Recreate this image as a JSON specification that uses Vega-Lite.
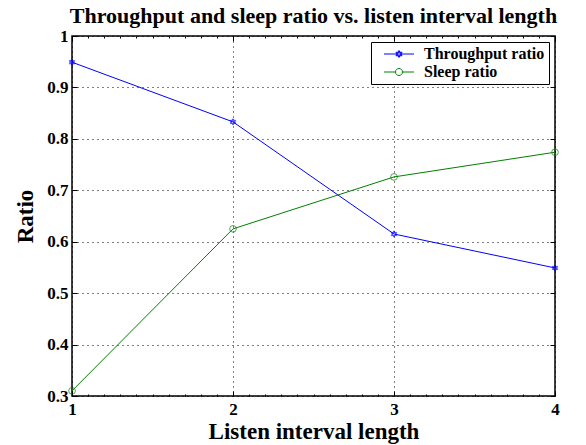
{
  "$schema": "https://vega.github.io/schema/vega-lite/v6.json",
  "width": 483,
  "height": 360,
  "autosize": "none",
  "padding": {"left": 72, "top": 36, "right": 31, "bottom": 49},
  "background": "white",
  "title": {
    "text": "Throughput and sleep ratio vs. listen interval length",
    "font": "Liberation Serif, Times New Roman, serif",
    "fontSize": 22,
    "fontWeight": "bold",
    "color": "black",
    "anchor": "middle",
    "offset": -1
  },
  "config": {
    "view": {"stroke": "black", "strokeWidth": 1.5},
    "axis": {
      "labelFont": "Liberation Serif, Times New Roman, serif",
      "labelFontWeight": "bold",
      "labelFontSize": 17,
      "labelColor": "black",
      "titleFont": "Liberation Serif, Times New Roman, serif",
      "titleFontWeight": "bold",
      "titleFontSize": 23,
      "titleColor": "black",
      "domain": false,
      "tickColor": "black",
      "gridColor": "black",
      "gridDash": [1, 4],
      "gridWidth": 1,
      "gridOpacity": 1
    },
    "legend": {
      "labelFont": "Liberation Serif, Times New Roman, serif",
      "labelFontWeight": "bold",
      "labelFontSize": 16,
      "labelColor": "black"
    }
  },
  "data": {
    "values": [
      {"x": 1, "series": "Throughput ratio", "ratio": 0.949},
      {"x": 2, "series": "Throughput ratio", "ratio": 0.833},
      {"x": 3, "series": "Throughput ratio", "ratio": 0.615},
      {"x": 4, "series": "Throughput ratio", "ratio": 0.549},
      {"x": 1, "series": "Sleep ratio", "ratio": 0.31},
      {"x": 2, "series": "Sleep ratio", "ratio": 0.625},
      {"x": 3, "series": "Sleep ratio", "ratio": 0.726},
      {"x": 4, "series": "Sleep ratio", "ratio": 0.774}
    ]
  },
  "layer": [
    {
      "mark": {"type": "line", "strokeWidth": 1},
      "encoding": {
        "x": {
          "field": "x",
          "type": "quantitative",
          "scale": {"domain": [1, 4], "nice": false, "zero": false},
          "axis": {
            "orient": "bottom",
            "title": "Listen interval length",
            "titlePadding": 3,
            "values": [1, 2, 3, 4],
            "format": "d",
            "labelPadding": 10,
            "labelFlush": false,
            "labelOverlap": false,
            "tickSize": -5,
            "grid": true
          }
        },
        "y": {
          "field": "ratio",
          "type": "quantitative",
          "scale": {"domain": [0.3, 1], "nice": false, "zero": false},
          "axis": {
            "orient": "left",
            "title": "Ratio",
            "titlePadding": 9,
            "values": [0.3, 0.4, 0.5, 0.6, 0.7, 0.8, 0.9, 1],
            "format": "~g",
            "labelPadding": 9,
            "labelFlush": false,
            "labelOverlap": false,
            "tickSize": -5,
            "grid": true
          }
        },
        "color": {
          "field": "series",
          "type": "nominal",
          "sort": ["Throughput ratio", "Sleep ratio"],
          "scale": {"domain": ["Throughput ratio", "Sleep ratio"], "range": ["#0000ff", "#008000"]},
          "legend": {
            "title": null,
            "orient": "top-right",
            "offset": 6,
            "padding": 4,
            "fillColor": "white",
            "strokeColor": "black",
            "symbolSize": 196,
            "symbolOffset": 16,
            "symbolStrokeWidth": 1,
            "symbolFillColor": "transparent",
            "labelOffset": 17,
            "rowPadding": 2,
            "encode": {
              "symbols": {
                "update": {
                  "shape": {"signal": "datum.value === 'Throughput ratio' ? 'M-2.14,0H2.14M0,-0.5L0.433,0.25L-0.433,0.25ZM0,0.5L0.433,-0.25L-0.433,-0.25Z' : 'M-2.14,0H-0.5M0.5,0H2.14M-0.5,0A0.5,0.5 0 1,1 0.5,0A0.5,0.5 0 1,1 -0.5,0Z'"},
                  "fill": {"value": "transparent"},
                  "strokeWidth": {"value": 1}
                }
              }
            }
          }
        }
      }
    },
    {
      "transform": [{"filter": "datum.series === 'Throughput ratio'"}],
      "mark": {"type": "point", "filled": false, "strokeWidth": 1, "color": "#0000ff", "size": 40, "shape": "M0,-1L0.866,0.5L-0.866,0.5ZM0,1L0.866,-0.5L-0.866,-0.5Z"},
      "encoding": {
        "x": {
          "field": "x",
          "type": "quantitative",
          "axis": {
            "orient": "top",
            "title": null,
            "values": [1, 2, 3, 4],
            "labels": false,
            "grid": false,
            "tickSize": -5
          }
        },
        "y": {
          "field": "ratio",
          "type": "quantitative",
          "axis": {
            "orient": "right",
            "title": null,
            "values": [0.3, 0.4, 0.5, 0.6, 0.7, 0.8, 0.9, 1],
            "labels": false,
            "grid": false,
            "tickSize": -5
          }
        }
      }
    },
    {
      "transform": [{"filter": "datum.series === 'Sleep ratio'"}],
      "mark": {"type": "point", "filled": false, "strokeWidth": 1, "color": "#008000", "size": 45, "shape": "circle"},
      "encoding": {
        "x": {
          "field": "x",
          "type": "quantitative",
          "axis": {
            "orient": "bottom",
            "title": null,
            "values": [1.1, 1.2, 1.3, 1.4, 1.5, 1.6, 1.7, 1.8, 1.9, 2.1, 2.2, 2.3, 2.4, 2.5, 2.6, 2.7, 2.8, 2.9, 3.1, 3.2, 3.3, 3.4, 3.5, 3.6, 3.7, 3.8, 3.9],
            "labels": false,
            "grid": false,
            "tickSize": -2
          }
        },
        "y": {"field": "ratio", "type": "quantitative", "axis": null}
      }
    },
    {
      "mark": {"type": "point", "opacity": 0, "strokeOpacity": 0, "fillOpacity": 0},
      "encoding": {
        "x": {
          "field": "x",
          "type": "quantitative",
          "axis": {
            "orient": "top",
            "title": null,
            "values": [1.1, 1.2, 1.3, 1.4, 1.5, 1.6, 1.7, 1.8, 1.9, 2.1, 2.2, 2.3, 2.4, 2.5, 2.6, 2.7, 2.8, 2.9, 3.1, 3.2, 3.3, 3.4, 3.5, 3.6, 3.7, 3.8, 3.9],
            "labels": false,
            "grid": false,
            "tickSize": -2
          }
        },
        "y": {"field": "ratio", "type": "quantitative", "axis": null}
      }
    }
  ],
  "resolve": {"axis": {"x": "independent", "y": "independent"}}
}
